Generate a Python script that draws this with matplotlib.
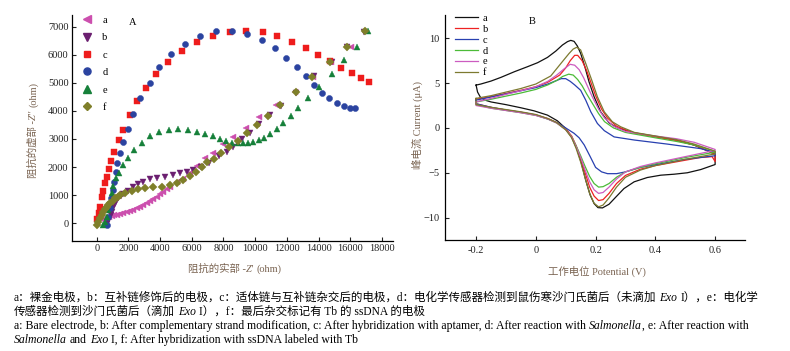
import matplotlib
matplotlib.use('Agg')
import matplotlib.pyplot as plt
from matplotlib.lines import Line2D

FAM = ['Liberation Serif', 'Noto Sans CJK SC']
plt.rcParams['font.family'] = FAM
plt.rcParams['font.size'] = 7.5

labels = ['a', 'b', 'c', 'd', 'e', 'f']

# ---- panel A: Nyquist data (Z' , -Z'')
a_re = [421, 520, 631, 780, 947, 1100, 1263, 1480, 1684, 1900, 2105, 2320, 2526, 2740, 2947, 3160, 3368, 3580,
        3789, 4000, 4210, 4420, 4631, 5052, 5473, 5894, 6315, 6839, 7366, 7997, 8627, 9428, 10272, 11323,
        12523, 13679, 14777, 16040]
a_im = [119, 150, 178, 220, 261, 280, 296, 325, 356, 395, 439, 485, 534, 590, 652, 720, 795, 870,
        949, 1040, 1127, 1215, 1305, 1459, 1577, 1800, 2050, 2313, 2512, 2811, 3082, 3402, 3772, 4210,
        4683, 5217, 5751, 6263]
b_re = [631, 720, 800, 870, 947, 1030, 1116, 1240, 1368, 1520, 1684, 2000, 2315, 2631, 2947, 3368, 3831, 4315,
        4800, 5262, 5684, 6105, 6600, 7100, 7745, 8210, 8627, 9157, 9681, 10272, 10946, 11649, 12600, 13683,
        14841, 15788, 16900]
b_im = [-40, 70, 178, 300, 415, 540, 652, 775, 890, 970, 1044, 1162, 1281, 1400, 1483, 1566, 1601, 1660,
        1720, 1779, 1838, 1898, 2000, 2150, 2395, 2548, 2705, 2990, 3203, 3523, 3855, 4174, 4650, 5240,
        5752, 6286, 6800]
c_re = [42, 126, 210, 316, 379, 505, 631, 758, 926, 1116, 1410, 1684, 2084, 2526, 3094, 3745, 4522, 5406,
        6334, 7345, 8418, 9448, 10483, 11405, 12315, 13199, 13976, 14720, 15447, 16104, 16672, 17177]
c_im = [142, 356, 593, 949, 1150, 1423, 1660, 1933, 2230, 2550, 2965, 3321, 3843, 4353, 4827, 5313, 5751, 6142,
        6463, 6676, 6797, 6843, 6797, 6665, 6441, 6228, 5979, 5760, 5537, 5349, 5182, 5039]
d_re = [631, 737, 842, 926, 1010, 1095, 1200, 1305, 1473, 1684, 2000, 2273, 2715, 3366, 3915, 4692, 5557,
        6524, 7553, 8544, 9492, 10420, 11260, 11974, 12630, 13218, 13742, 14228, 14689, 15175, 15598, 15976,
        16331]
d_im = [-59, 237, 534, 890, 1186, 1482, 1838, 2135, 2491, 2906, 3356, 3878, 4448, 5004, 5552, 6014, 6391,
        6676, 6843, 6843, 6726, 6512, 6228, 5883, 5552, 5231, 4922, 4648, 4448, 4292, 4185, 4114,
        4093]
e_re = [421, 526, 631, 737, 842, 947, 1052, 1221, 1410, 1642, 2000, 2379, 2842, 3368, 3936, 4547, 5157, 5768,
        6315, 6839, 7325, 7787, 8166, 8544, 8904, 9220, 9555, 9890, 10231, 10565, 10944, 11367, 11784, 12251,
        12731, 13324, 14039, 14840, 15617, 16420, 17114]
e_im = [-60, 40, 213, 474, 771, 1067, 1328, 1601, 1803, 2064, 2336, 2597, 2846, 3107, 3238, 3321, 3344, 3321,
        3249, 3167, 3117, 3000, 2929, 2868, 2847, 2847, 2847, 2883, 2964, 3036, 3167, 3345, 3559, 3819,
        4103, 4448, 4840, 5324, 5800, 6285, 6843]
f_re = [0, 105, 210, 316, 421, 526, 631, 737, 842, 1000, 1158, 1316, 1473, 1789, 2210, 2631, 3052, 3578, 4105,
        4631, 5052, 5473, 5892, 6273, 6631, 6989, 7408, 7850, 8374, 8942, 9511, 10104, 10837, 11576, 12586,
        13578, 14733, 15788, 16943]
f_im = [-59, 60, 178, 300, 415, 500, 593, 665, 735, 810, 890, 950, 1008, 1091, 1162, 1210, 1245, 1281, 1305,
        1364, 1423, 1540, 1680, 1810, 1990, 2171, 2288, 2491, 2705, 2940, 3224, 3498, 3829, 4210, 4685,
        5217, 5751, 6285, 6843]

nyq = [(a_re, a_im), (b_re, b_im), (c_re, c_im), (d_re, d_im), (e_re, e_im), (f_re, f_im)]
a_marks = ['<', 'v', 's', 'o', '^', 'D']
a_cols = ['#cc4fae', '#6b1f70', '#ee1c1c', '#2b43a0', '#16803a', '#7f7f2a']
a_size = [4.8, 4.8, 4.0, 4.4, 4.6, 3.8]

# ---- panel B: cyclic voltammograms (potential V, current uA), closed loops
cv_a_e = [-0.2, -0.184, -0.15, -0.117, -0.072, -0.028, 0.006, 0.039, 0.067, 0.089, 0.106, 0.117, 0.128, 0.139,
          0.15, 0.164, 0.178, 0.195, 0.217, 0.245, 0.273, 0.329, 0.396, 0.463, 0.53, 0.574, 0.6,
          0.6, 0.552, 0.507, 0.463, 0.418, 0.373, 0.329, 0.295, 0.268, 0.245, 0.223, 0.208, 0.195, 0.182,
          0.167, 0.153, 0.137, 0.119, 0.1, 0.072, 0.039, -0.006, -0.05, -0.1, -0.15, -0.17, -0.185, -0.195, -0.2]
cv_a_i = [4.78, 4.9, 5.23, 5.64, 6.27, 6.83, 7.28, 7.87, 8.58, 9.25, 9.63, 9.77, 9.66, 9.14,
          8.32, 6.83, 5.15, 3.48, 1.8, 0.57, 0.01, -0.54, -0.92, -1.29, -1.92, -2.55, -2.93,
          -4.08, -4.64, -5.0, -5.16, -5.27, -5.53, -6.01, -6.76, -7.7, -8.51, -8.92, -8.89, -8.44, -7.5,
          -5.83, -3.97, -2.29, -0.99, -0.06, 0.8, 1.43, 1.91, 2.25, 2.6, 2.9, 3.1, 3.4, 4.0, 4.78]
cv_b_e = [-0.2, -0.15, -0.1, -0.05, 0.0, 0.04, 0.08, 0.1, 0.115, 0.13, 0.14, 0.155, 0.17, 0.185, 0.2, 0.22,
          0.24, 0.27, 0.32, 0.4, 0.47, 0.53, 0.58, 0.6,
          0.6, 0.59, 0.55, 0.5, 0.45, 0.4, 0.35, 0.3, 0.27, 0.245, 0.225, 0.21, 0.195, 0.18, 0.165, 0.15, 0.135,
          0.12, 0.1, 0.07, 0.04, 0.0, -0.05, -0.1, -0.15, -0.2, -0.2]
cv_b_i = [3.2, 3.5, 3.85, 4.2, 4.6, 5.1, 5.9, 6.7, 7.5, 8.1, 8.1, 7.5, 6.4, 5.0, 3.6, 2.1,
          1.1, 0.2, -0.5, -1.0, -1.4, -1.9, -2.6, -3.0,
          -3.75, -3.2, -3.3, -3.6, -3.9, -4.2, -4.6, -5.3, -6.2, -7.3, -8.0, -8.1, -7.6, -6.6, -5.0, -3.4, -2.0,
          -0.9, -0.1, 0.6, 1.05, 1.45, 1.75, 2.0, 2.3, 2.7, 3.2]
cv_c_e = [-0.2, -0.15, -0.1, -0.05, 0.0, 0.04, 0.07, 0.085, 0.1, 0.115, 0.13, 0.15, 0.167, 0.184, 0.206,
          0.229, 0.262, 0.33, 0.44, 0.55, 0.6,
          0.6, 0.5, 0.4, 0.35, 0.3, 0.27, 0.24, 0.22, 0.2, 0.182, 0.162, 0.145, 0.128, 0.1, 0.07, 0.04, 0.0,
          -0.05, -0.1, -0.15, -0.2, -0.2]
cv_c_i = [3.1, 3.45, 3.8, 4.15, 4.5, 4.9, 5.3, 5.5, 5.5, 5.2, 4.8, 4.2, 3.1, 1.8, 0.5,
          -0.3, -1.0, -1.35, -1.8, -2.3, -2.7,
          -3.1, -3.5, -4.1, -4.4, -4.9, -5.1, -5.1, -4.9, -4.4, -3.2, -1.9, -1.1, -0.6, 0.0, 0.6, 1.0, 1.45,
          1.75, 2.0, 2.3, 2.7, 3.1]
cv_d_e = [-0.2, -0.15, -0.1, -0.05, 0.0, 0.04, 0.07, 0.09, 0.11, 0.125, 0.14, 0.155, 0.17, 0.19, 0.21, 0.23,
          0.26, 0.3, 0.4, 0.47, 0.53, 0.6,
          0.6, 0.5, 0.4, 0.35, 0.3, 0.27, 0.245, 0.225, 0.21, 0.195, 0.18, 0.165, 0.15, 0.135, 0.12, 0.1, 0.07,
          0.04, 0.0, -0.05, -0.1, -0.15, -0.2, -0.2]
cv_d_i = [2.9, 3.2, 3.55, 3.9, 4.3, 4.8, 5.3, 5.75, 6.0, 5.9, 5.4, 4.7, 3.8, 2.7, 1.6, 0.7,
          0.0, -0.5, -1.1, -1.5, -1.9, -2.6,
          -2.7, -3.3, -4.0, -4.4, -4.9, -5.5, -6.2, -6.55, -6.6, -6.2, -5.4, -4.3, -3.1, -2.0, -1.0, -0.2, 0.55,
          1.0, 1.4, 1.7, 1.95, 2.2, 2.6, 2.9]
cv_e_e = [-0.2, -0.15, -0.1, -0.05, 0.0, 0.04, 0.07, 0.095, 0.115, 0.13, 0.145, 0.16, 0.175, 0.19, 0.21, 0.23,
          0.26, 0.3, 0.4, 0.47, 0.53, 0.6,
          0.6, 0.5, 0.4, 0.35, 0.3, 0.27, 0.245, 0.225, 0.21, 0.195, 0.18, 0.165, 0.15, 0.135, 0.12, 0.1, 0.07,
          0.04, 0.0, -0.05, -0.1, -0.15, -0.2, -0.2]
cv_e_i = [2.9, 3.3, 3.75, 4.15, 4.6, 5.2, 5.9, 6.6, 7.1, 7.0, 6.5, 5.6, 4.5, 3.4, 2.1, 1.1,
          0.2, -0.4, -0.9, -1.2, -1.6, -2.4,
          -2.5, -3.2, -3.9, -4.3, -4.9, -5.7, -6.6, -7.2, -7.3, -6.9, -6.0, -4.7, -3.3, -2.1, -1.0, -0.2, 0.55,
          1.0, 1.4, 1.7, 1.95, 2.2, 2.5, 2.9]
cv_f_e = [-0.2, -0.15, -0.1, -0.05, 0.0, 0.05, 0.084, 0.111, 0.125, 0.137, 0.15, 0.167, 0.187, 0.206, 0.229,
          0.256, 0.284, 0.33, 0.4, 0.47, 0.53, 0.6,
          0.6, 0.5, 0.4, 0.35, 0.3, 0.27, 0.245, 0.225, 0.21, 0.195, 0.18, 0.165, 0.15, 0.135, 0.12, 0.1, 0.07,
          0.04, 0.0, -0.05, -0.1, -0.15, -0.2, -0.2]
cv_f_i = [3.3, 3.6, 4.0, 4.4, 4.9, 5.8, 7.2, 8.3, 8.8, 9.0, 8.7, 7.2, 5.34, 3.48, 1.8,
          0.69, 0.13, -0.5, -0.9, -1.3, -1.8, -2.6,
          -2.9, -3.5, -4.2, -4.7, -5.5, -6.6, -7.8, -8.6, -8.8, -8.4, -7.3, -5.6, -3.8, -2.3, -1.1, -0.2, 0.6,
          1.05, 1.5, 1.8, 2.05, 2.3, 2.6, 3.3]

cvs = [(cv_a_e, cv_a_i), (cv_b_e, cv_b_i), (cv_c_e, cv_c_i), (cv_d_e, cv_d_i), (cv_e_e, cv_e_i), (cv_f_e, cv_f_i)]
b_cols = ['#111111', '#ee2222', '#2840b0', '#4cbb38', '#cc5cc0', '#7d7a30']

cap_zh1 = [("a：裸金电极，b：互补链修饰后的电极，c：适体链与互补链杂交后的电极，d：电化学传感器检测到鼠伤寒沙门氏菌后（未滴加 ", False),
           ("Exo", True), (" I），e：电化学", False)]
cap_zh2 = [("传感器检测到沙门氏菌后（滴加 ", False), ("Exo", True), (" I），f：最后杂交标记有 Tb 的 ssDNA 的电极", False)]
cap_en1 = [("a: Bare electrode, b: After complementary strand modification, c: After hybridization with aptamer, "
            "d: After reaction with ", False), ("Salmonella", True), (", e: After reaction with", False)]
cap_en2 = [("Salmonella", True), (" and ", False), ("Exo", True),
           (" I, f: After hybridization with ssDNA labeled with Tb", False)]

LBL = '#7a6452'
W, H = 790, 351
fig = plt.figure(figsize=(7.9, 3.51), dpi=100)
rend = fig.canvas.get_renderer()


def put_runs(x, y, runs, size, color='black', rotation=0, center=True):
    # x, y in pixels from the top-left corner; y (or x when rotated) is the baseline
    sp = size * 0.25 * 100 / 72
    items = []
    total = 0
    for s, it in runs:
        core = s.strip(' ')
        lead = len(s) - len(s.lstrip(' '))
        trail = len(s) - len(s.rstrip(' '))
        t = fig.text(0, 0, core, fontsize=size, color=color, style='italic' if it else 'normal',
                     rotation=rotation, rotation_mode='anchor', ha='left', va='baseline')
        bb = t.get_window_extent(rend)
        ln = bb.width if rotation == 0 else bb.height
        items.append((t, total + lead * sp))
        total += lead * sp + ln + trail * sp
    start = -total / 2 if center else 0
    for t, off in items:
        if rotation == 0:
            t.set_position(((x + start + off) / W, 1 - y / H))
        else:
            t.set_position((x / W, 1 - (y - start - off) / H))


def style_axes(ax, pad):
    for s in ['top', 'right']:
        ax.spines[s].set_visible(False)
    for s in ['left', 'bottom']:
        ax.spines[s].set_linewidth(0.9)
    ax.tick_params(direction='in', length=3, width=0.8, labelsize=7.5, pad=pad, colors='#222222')


# ---- panel A
axA = fig.add_axes([72 / W, 1 - 241 / H, 321 / W, 226 / H])
for (zr, zi), m, c, ms in zip(nyq, a_marks, a_cols, a_size):
    axA.plot(zr, zi, ls='none', marker=m, color=c, ms=ms, mec=c, mew=0.3)
axA.set_xlim(-1560, 18700)
axA.set_ylim(-630, 7410)
axA.set_xticks(range(0, 18001, 2000))
axA.set_yticks(range(0, 7001, 1000))
style_axes(axA, 2.5)
hA = [Line2D([], [], ls='none', marker=m, color=c, ms=ms + 0.7) for m, c, ms in zip(a_marks, a_cols, a_size)]
axA.legend(hA, labels, loc='upper left', bbox_to_anchor=(0.01, 1.025), frameon=False, fontsize=7.5,
           handlelength=1.0, handletextpad=1.0, labelspacing=0.78, borderaxespad=0.2)
axA.text(0.189, 0.965, 'A', transform=axA.transAxes, fontsize=7.5, ha='center', va='center')

# ---- panel B
axB = fig.add_axes([445 / W, 1 - 240 / H, 300 / W, 225 / H])
for (ev, iv), c, lab in zip(cvs, b_cols, labels):
    axB.plot(ev, iv, color=c, lw=0.9, label=lab)
axB.set_xlim(-0.304, 0.70)
axB.set_ylim(-12.5, 12.6)
axB.set_xticks([-0.2, 0, 0.2, 0.4, 0.6])
axB.set_xticklabels(['-0.2', '0', '0.2', '0.4', '0.6'])
axB.set_yticks([-10, -5, 0, 5, 10])
style_axes(axB, 4)
axB.legend(loc='upper left', bbox_to_anchor=(0.012, 1.035), frameon=False, fontsize=7.5,
           handlelength=2.2, handletextpad=0.5, labelspacing=0.16, borderaxespad=0.2)
axB.text(0.29, 0.97, 'B', transform=axB.transAxes, fontsize=7.5, ha='center', va='center')

# ---- axis labels
put_runs(235, 272, [("阻抗的实部 -", False), ("Z'", True), (" (ohm)", False)], 7.5, LBL)
put_runs(36, 130, [("阻抗的虚部 -", False), ("Z''", True), (" (ohm)", False)], 7.5, LBL, rotation=90)
put_runs(597, 275, [("工作电位 Potential (V)", False)], 7.5, LBL)
put_runs(421, 125, [("峰电流 Current (μA)", False)], 7.5, LBL, rotation=90)

# ---- caption
for yy, runs, fs in zip([301, 315, 329, 343], [cap_zh1, cap_zh2, cap_en1, cap_en2], [8.3, 8.3, 8.5, 8.5]):
    put_runs(14, yy, runs, fs, 'black', center=False)

fig.savefig('out.png', dpi=100)
